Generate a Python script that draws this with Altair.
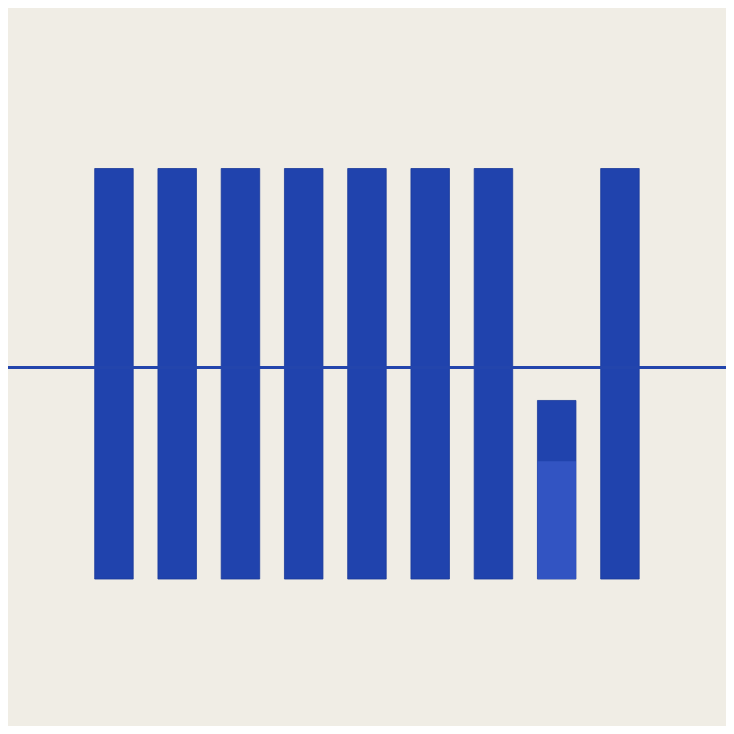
import altair as alt
import pandas as pd

categories = ["1", "2", "3", "4", "5", "6", "7", "8", "9"]
values = [100, 100, 100, 100, 100, 100, 100, 43.5, 100]
lower_values = [0, 0, 0, 0, 0, 0, 0, 28.7, 0]
reference_value = [51.5]

bars_df = pd.DataFrame({"cat": categories, "value": values, "lower": lower_values})
rule_df = pd.DataFrame({"ref": reference_value})

x_enc = alt.X(
    "cat:N",
    sort=categories,
    axis=None,
    scale=alt.Scale(paddingInner=0.391, paddingOuter=0, range=[86.7, 631.2]),
)
y_scale = alt.Scale(domain=[-35.8, 139.1], nice=False, zero=False)

bars = alt.Chart(bars_df).mark_bar(
    color="#2043AD", stroke="#1B3A9A", strokeWidth=0.8
).encode(
    x=x_enc,
    y=alt.Y("value:Q", axis=None, scale=y_scale),
    y2=alt.datum(0),
)

lower = alt.Chart(bars_df).transform_filter("datum.lower > 0").mark_bar(
    color="#3254C2"
).encode(
    x=x_enc,
    y=alt.Y("lower:Q", axis=None, scale=y_scale),
    y2=alt.datum(0),
)

rule = alt.Chart(rule_df).mark_rule(color="#2345AC", strokeWidth=3).encode(
    y=alt.Y("ref:Q", axis=None, scale=y_scale),
)

chart = alt.layer(bars, lower, rule).properties(
    width=718,
    height=718,
    background="#F0EDE5",
    padding=0,
    autosize=alt.AutoSizeParams(type="none"),
).configure_view(stroke=None)

chart.save("out.html", embed_options={"renderer": "svg", "actions": False})
